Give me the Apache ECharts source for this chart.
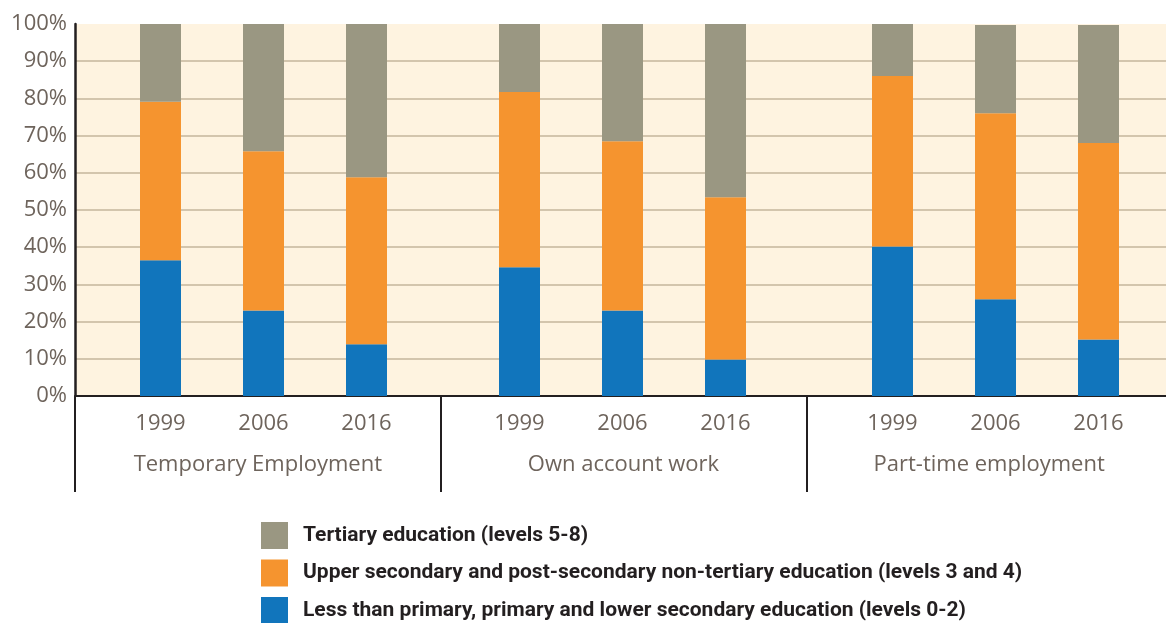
<!DOCTYPE html>
<html>
<head>
<meta charset="utf-8">
<script src="https://cdn.jsdelivr.net/npm/echarts@6/dist/echarts.min.js"></script>
<style>
html,body{margin:0;padding:0;background:#fff;}
#chart{width:1166px;height:623px;}
</style>
</head>
<body>
<div id="chart"></div>
<script>
// data (percent of each group)
const groups = ['Temporary Employment', 'Own account work', 'Part-time employment']
const years = ['1999', '2006', '2016']
const yTicks = [0, 10, 20, 30, 40, 50, 60, 70, 80, 90, 100]

// order: Temporary (1999,2006,2016), Own account (...), Part-time (...)
const lowerEdu = [36.5, 23.0, 13.9, 34.6, 23.0, 9.8, 40.2, 26.0, 15.2]
const upperEdu = [42.6, 42.8, 44.9, 47.1, 45.5, 43.6, 45.8, 50.0, 52.8]
const tertiaryEdu = [20.9, 34.2, 41.2, 18.3, 31.5, 46.6, 14.0, 23.7, 31.7]

const names = [
    'Tertiary education (levels 5-8)',
    'Upper secondary and post-secondary non-tertiary education (levels 3 and 4)',
    'Less than primary, primary and lower secondary education (levels 0-2)'
]
const colors = {
    tertiary: '#9a9782',
    upper: '#f5942f',
    lower: '#1175bc'
}

const labelFont = 'Open Sans'
const labelColor = '#6e645c'

const chart = echarts.init(document.getElementById('chart'))

const barLefts = [109, 468, 841]

const grids = [{
    left: 75, top: 24, width: 1097, height: 372,
    outerBoundsMode: 'none',
    show: true, backgroundColor: '#fef3e0', borderWidth: 0
}]
const xAxes = [{
    type: 'category',
    gridIndex: 0,
    data: groups,
    axisLine: {lineStyle: {color: '#231f20', width: 2}},
    axisTick: {show: true, length: 96, interval: 0, lineStyle: {color: '#231f20', width: 2}},
    axisLabel: {margin: 58, fontFamily: labelFont, fontSize: 22, color: labelColor}
}]
const yAxes = [{
    type: 'value',
    gridIndex: 0,
    min: yTicks[0],
    max: yTicks[yTicks.length - 1],
    interval: 10,
    axisLine: {show: true, lineStyle: {color: '#231f20', width: 2.5}},
    axisTick: {show: false},
    axisLabel: {formatter: '{value}%', margin: 8, fontFamily: labelFont, fontSize: 22, color: labelColor},
    splitLine: {show: true, showMaxLine: false, lineStyle: {color: '#d3c5ad', width: 2}}
}]
const series = []

groups.forEach((g, i) => {
    const gi = i + 1
    grids.push({left: barLefts[i], top: 24, width: 309, height: 372, outerBoundsMode: 'none'})
    xAxes.push({
        type: 'category',
        gridIndex: gi,
        data: years,
        axisLine: {show: false},
        axisTick: {show: false},
        axisLabel: {margin: 17, fontFamily: labelFont, fontSize: 22, color: labelColor}
    })
    yAxes.push({type: 'value', gridIndex: gi, min: 0, max: 100, show: false, splitLine: {show: false}})
    const s = i * 3
    const parts = [
        [names[2], lowerEdu, colors.lower],
        [names[1], upperEdu, colors.upper],
        [names[0], tertiaryEdu, colors.tertiary]
    ]
    parts.forEach(p => {
        series.push({
            name: p[0],
            type: 'bar',
            stack: 'g' + gi,
            xAxisIndex: gi,
            yAxisIndex: gi,
            barWidth: 41,
            data: p[1].slice(s, s + 3),
            itemStyle: {color: p[2]},
            emphasis: {disabled: true}
        })
    })
})

const option = {
    animation: false,
    grid: grids,
    xAxis: xAxes,
    yAxis: yAxes,
    legend: {
        orient: 'vertical',
        left: 261,
        top: 522,
        height: 130,
        padding: 0,
        itemWidth: 27,
        itemHeight: 27,
        itemGap: 10.5,
        icon: 'rect',
        selectedMode: false,
        data: names,
        textStyle: {
            fontFamily: 'Roboto',
            fontWeight: 'bold',
            fontSize: 21,
            color: '#231f20',
            padding: [0, 0, 0, 10]
        }
    },
    series: series
}

chart.setOption(option)
</script>
</body>
</html>
